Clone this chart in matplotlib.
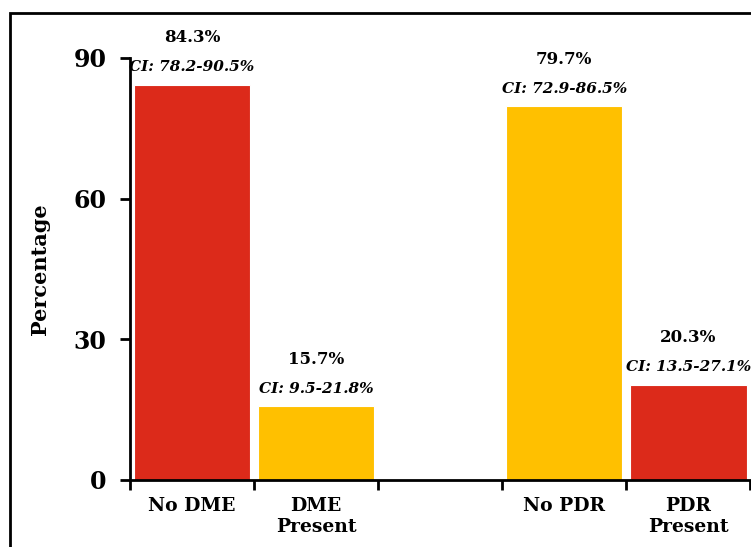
import matplotlib
matplotlib.use("Agg")
import matplotlib.pyplot as plt
from matplotlib.patches import Rectangle
import numpy as np

categories = ["No DME", "DME\nPresent", "", "No PDR", "PDR\nPresent"]
values = [84.3, 15.7, None, 79.7, 20.3]
ci_labels = ["CI: 78.2-90.5%", "CI: 9.5-21.8%", None, "CI: 72.9-86.5%", "CI: 13.5-27.1%"]
bar_colors = ["#DC2A1A", "#FFC000", None, "#FFC000", "#DC2A1A"]
yticks = [0, 30, 60, 90]

plt.rcParams['font.family'] = ['DejaVu Serif']
fig = plt.figure(figsize=(7.51, 5.47), dpi=100)
ax = fig.add_axes([0.173, 0.1225, 0.826, 0.7715])

x = np.arange(len(categories))
for i, (v, c) in enumerate(zip(values, bar_colors)):
    if v is None:
        continue
    ax.bar(x[i], v, width=0.94, color=c, edgecolor="white", linewidth=0.8)
    ax.annotate(f"{v}%", (x[i], v), xytext=(0, 34), textcoords="offset points",
                ha="center", va="center", fontsize=12, fontweight="bold")
    ax.annotate(ci_labels[i], (x[i], v), xytext=(0, 12.5), textcoords="offset points",
                ha="center", va="center", fontsize=11, fontweight="bold", fontstyle="italic")

ax.set_xlim(-0.5, 4.5)
ax.set_ylim(0, 90)
ax.set_yticks(yticks)
ax.set_xticks(x)
ax.set_xticklabels(categories, fontsize=13.5, fontweight="bold", linespacing=1.25)
ax.set_xticks(np.arange(-0.5, 5.0, 1.0), minor=True)
ax.tick_params(axis="x", which="major", length=0, pad=12)
ax.tick_params(axis="x", which="minor", length=7, width=2, direction="out")
ax.tick_params(axis="y", length=7, width=2, pad=10, labelsize=17)
for lab in ax.get_yticklabels():
    lab.set_fontweight("bold")
ax.set_ylabel("Percentage", fontsize=15, fontweight="bold", labelpad=17)
for s in ["top", "right"]:
    ax.spines[s].set_visible(False)
for s in ["left", "bottom"]:
    ax.spines[s].set_linewidth(2)

fig.patches.append(Rectangle((0.0133, -0.02), 1.2, 1 - 13/547 + 0.02,
                             transform=fig.transFigure, fill=False,
                             edgecolor="black", linewidth=2))

fig.savefig("out.png", dpi=100)
